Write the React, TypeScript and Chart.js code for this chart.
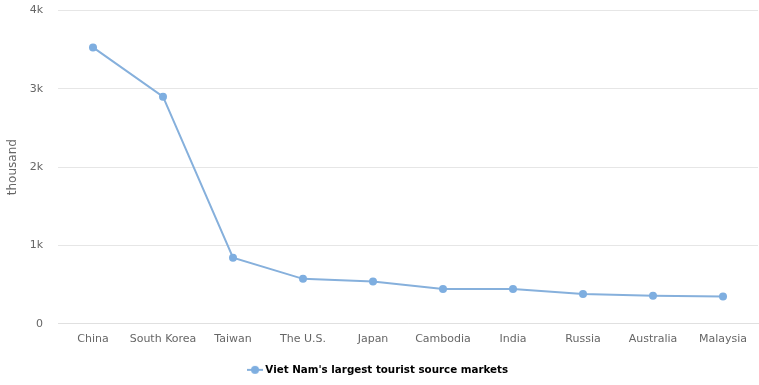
import React, { useEffect, useRef } from "react";
import { Chart, registerables } from "chart.js";

Chart.register(...registerables);

const categories = ["China", "South Korea", "Taiwan", "The U.S.", "Japan", "Cambodia", "India", "Russia", "Australia", "Malaysia"];
const visitors = [3530, 2900, 843, 573, 538, 443, 442, 380, 358, 346];
const yTicks = [0, 1000, 2000, 3000, 4000];
const seriesName = "Viet Nam's largest tourist source markets";
const axisTitle = "thousand";

const FONT = "'DejaVu Sans', sans-serif";
const LINE = "#86b0dc";
const POINT = "#7eaee0";

function legendIcon(): HTMLCanvasElement {
  const c = document.createElement("canvas");
  c.width = 16;
  c.height = 10;
  const ctx = c.getContext("2d")!;
  ctx.strokeStyle = LINE;
  ctx.lineWidth = 2;
  ctx.beginPath();
  ctx.moveTo(0, 5);
  ctx.lineTo(16, 5);
  ctx.stroke();
  ctx.fillStyle = POINT;
  ctx.beginPath();
  ctx.arc(8, 5, 4, 0, Math.PI * 2);
  ctx.fill();
  return c;
}

export default function App() {
  const ref = useRef<HTMLCanvasElement | null>(null);
  useEffect(() => {
    document.body.style.margin = "0";
    const icon = legendIcon();
    const chart = new Chart(ref.current!, {
      type: "line",
      data: {
        labels: categories,
        datasets: [
          {
            label: seriesName,
            data: visitors,
            borderColor: LINE,
            backgroundColor: POINT,
            borderWidth: 2,
            pointRadius: 4,
            pointHoverRadius: 5,
            pointBackgroundColor: POINT,
            pointBorderWidth: 0,
            pointStyle: "circle",
            tension: 0,
          },
        ],
      },
      options: {
        animation: false,
        responsive: false,
        maintainAspectRatio: false,
        layout: { autoPadding: false, padding: { top: 0, right: 1, left: 0, bottom: 0 } },
        plugins: {
          tooltip: { enabled: false },
          legend: {
            position: "bottom",
            labels: {
              usePointStyle: true,
              font: { family: FONT, size: 10.3, weight: "bold" },
              color: "#333333",
              padding: 6,
              generateLabels: () => [
                {
                  text: seriesName,
                  pointStyle: icon as any,
                  fillStyle: POINT,
                  strokeStyle: LINE,
                  lineWidth: 0,
                  hidden: false,
                  datasetIndex: 0,
                } as any,
              ],
            },
          },
        },
        scales: {
          x: {
            type: "category",
            grid: { display: false, drawTicks: false },
            border: { display: true, color: "#e0e0e0", width: 1 },
            ticks: { color: "#666666", font: { family: FONT, size: 11 }, padding: 9, maxRotation: 0, autoSkip: false },
            offset: true,
            afterFit: (scale: any) => {
              scale.height = 35;
            },
          },
          y: {
            min: 0,
            max: 4000,
            afterBuildTicks: (scale: any) => {
              scale.ticks = yTicks.map((v) => ({ value: v }));
            },
            afterFit: (scale: any) => {
              scale.width = 58;
            },
            grid: { color: "#e6e6e6", drawTicks: true, tickLength: 11, tickColor: "rgba(0,0,0,0)" },
            border: { display: false },
            ticks: {
              color: "#666666",
              font: { family: FONT, size: 11 },
              padding: 4,
              callback: (v: any) => (Number(v) === 0 ? "0" : Number(v) / 1000 + "k"),
            },
            title: {
              display: true,
              text: axisTitle,
              color: "#666666",
              font: { family: FONT, size: 12 },
              padding: { top: 6, bottom: 0 },
            },
          },
        },
      } as any,
    });
    return () => chart.destroy();
  }, []);
  return (
    <div style={{ position: "absolute", left: 0, top: 0, width: 759, height: 385 }}>
      <canvas ref={ref} width={759} height={385} style={{ width: 759, height: 385 }} />
    </div>
  );
}
